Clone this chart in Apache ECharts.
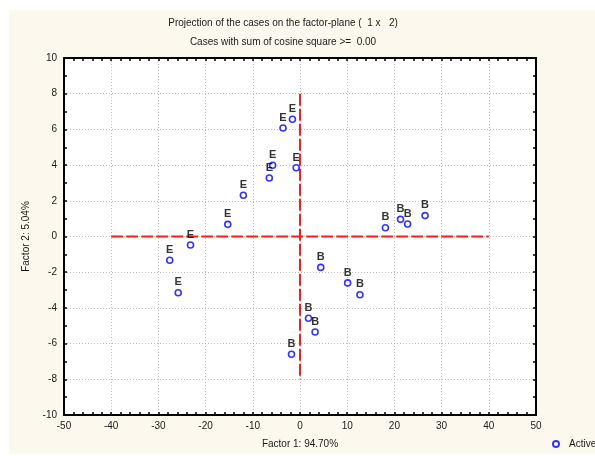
<!DOCTYPE html>
<html>
<head>
<meta charset="utf-8">
<script src="https://cdn.jsdelivr.net/npm/echarts@6/dist/echarts.min.js"></script>
<style>
  html, body { margin: 0; padding: 0; background: #ffffff; }
  #chart { width: 595px; height: 456px; }
</style>
</head>
<body>
<div id="chart"></div>
<script>
// Case coordinates on the factor plane (Factor 1, Factor 2) and their group letters
const caseLabels = ['E', 'E', 'E', 'E', 'E', 'E', 'E', 'E', 'E', 'E',
                    'B', 'B', 'B', 'B', 'B', 'B', 'B', 'B', 'B', 'B'];
const factor1 = [-1.6, -3.6, -5.8, -6.5, -0.8, -12.0, -15.3, -23.2, -27.6, -25.8,
                 18.1, 21.3, 22.8, 26.5, 4.4, 10.1, 12.7, 1.8, 3.2, -1.8];
const factor2 = [6.57, 6.08, 3.99, 3.28, 3.85, 2.31, 0.68, -0.48, -1.33, -3.15,
                 0.49, 0.96, 0.70, 1.17, -1.73, -2.60, -3.26, -4.58, -5.35, -6.60];

// Reference axes through the origin
const refH_x = [-40, 40];
const refV_y = [8, -8];

// Axis ranges and tick steps
const xRange = [-50, 50];
const yRange = [-10, 10];
const xStep = 10;
const yStep = 2;

const titleMain = 'Projection of the cases on the factor-plane (  1 x   2)';
const titleSub = 'Cases with sum of cosine square >=  0.00';
const xName = 'Factor 1: 94.70%';
const yName = 'Factor 2: 5.04%';
const seriesName = 'Active';

const FONT = '"Liberation Sans", Arial, sans-serif';
const TXT = '#1a1a1a';

const points = factor1.map((x, i) => ({ value: [x, factor2[i]], name: caseLabels[i] }));

const chart = echarts.init(document.getElementById('chart'), null, { renderer: 'canvas' });

function xAxisDef(pos, showLabels) {
  return {
    type: 'value', position: pos, min: xRange[0], max: xRange[1], interval: xStep,
    axisLine: { show: true, onZero: false, lineStyle: { color: '#000', width: 2 } },
    axisTick: { show: true, inside: true, length: 3, lineStyle: { color: '#000', width: 1.5 } },
    minorTick: { show: true, splitNumber: 5, length: 3, lineStyle: { color: '#000', width: 1.5 } },
    axisLabel: { show: showLabels, margin: 6, color: TXT, fontFamily: FONT, fontSize: 10 },
    splitLine: { show: showLabels, lineStyle: { color: '#bdbdbd', type: [1, 2], width: 1 } },
    name: showLabels ? xName : '', nameLocation: 'middle', nameGap: 24,
    nameTextStyle: { color: TXT, fontFamily: FONT, fontSize: 10 }
  };
}

function yAxisDef(pos, showLabels) {
  return {
    type: 'value', position: pos, min: yRange[0], max: yRange[1], interval: yStep,
    axisLine: { show: true, onZero: false, lineStyle: { color: '#000', width: 2 } },
    axisTick: { show: true, inside: true, length: 3, lineStyle: { color: '#000', width: 1.5 } },
    minorTick: { show: true, splitNumber: 2, length: 3, lineStyle: { color: '#000', width: 1.5 } },
    axisLabel: { show: showLabels, margin: 7, color: TXT, fontFamily: FONT, fontSize: 10 },
    splitLine: { show: showLabels, lineStyle: { color: '#bdbdbd', type: [1, 2], width: 1 } },
    name: showLabels ? yName : '', nameLocation: 'middle', nameGap: 33,
    nameTextStyle: { color: TXT, fontFamily: FONT, fontSize: 10 }
  };
}

const refStyle = { color: '#ff1a1a', width: 2, type: [12, 3] };

chart.setOption({
  animation: false,
  backgroundColor: '#ffffff',
  graphic: [{
    type: 'rect', z: -100, silent: true,
    shape: { x: 9, y: 10, width: 590, height: 444 },
    style: { fill: '#fdf8ee' }
  }],
  title: [
    { text: titleMain, left: 278, top: 13, textAlign: 'center',
      textStyle: { color: TXT, fontFamily: FONT, fontSize: 10, fontWeight: 'normal' } },
    { text: titleSub, left: 278, top: 32, textAlign: 'center',
      textStyle: { color: TXT, fontFamily: FONT, fontSize: 10, fontWeight: 'normal' } }
  ],
  legend: {
    left: 547, top: 434, itemWidth: 6, itemHeight: 6,
    data: [{ name: seriesName, icon: 'circle' }],
    textStyle: { color: TXT, fontFamily: FONT, fontSize: 10, padding: [0, 0, 0, 5] }
  },
  grid: {
    left: 64, top: 58, width: 472, height: 357,
    show: true, backgroundColor: '#ffffff', borderWidth: 0
  },
  xAxis: [xAxisDef('bottom', true), xAxisDef('top', false)],
  yAxis: [yAxisDef('left', true), yAxisDef('right', false)],
  series: [
    {
      name: 'refH', type: 'line', xAxisIndex: 0, yAxisIndex: 0, symbol: 'none', silent: true,
      data: refH_x.map(x => [x, 0]), lineStyle: refStyle, z: 3
    },
    {
      name: 'refV', type: 'line', xAxisIndex: 0, yAxisIndex: 0, symbol: 'none', silent: true,
      data: refV_y.map(y => [0, y]), lineStyle: refStyle, z: 3
    },
    {
      name: seriesName, type: 'scatter', xAxisIndex: 0, yAxisIndex: 0,
      symbol: 'circle', symbolSize: 6, z: 5,
      itemStyle: { color: '#ffffff', borderColor: '#0000ff', borderWidth: 1.6 },
      label: {
        show: true, position: 'top', distance: 1,
        formatter: p => p.name,
        color: '#000', fontFamily: FONT, fontSize: 11, fontWeight: 'bold'
      },
      data: points
    }
  ]
});
</script>
</body>
</html>
